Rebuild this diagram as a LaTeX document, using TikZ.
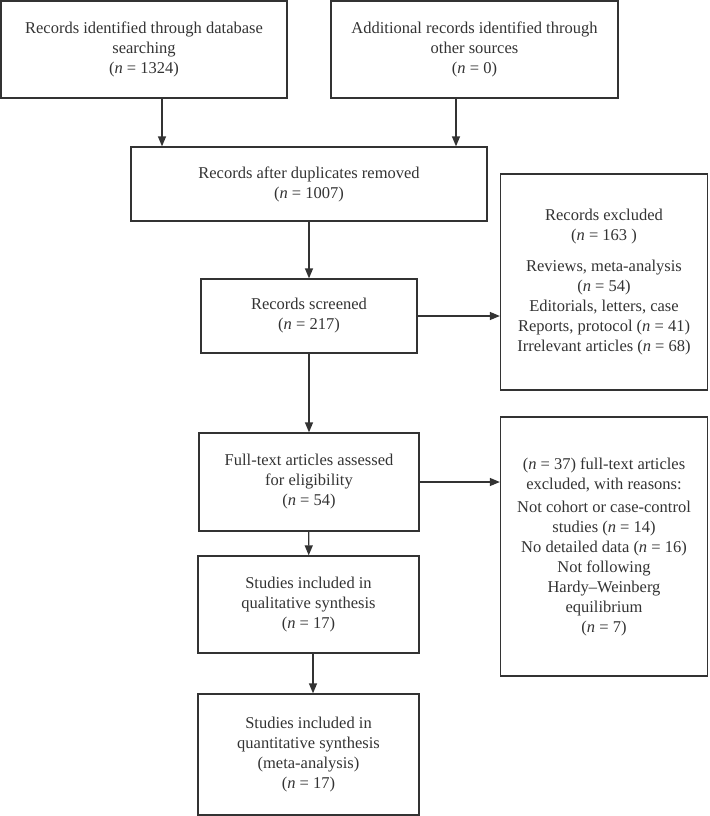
\documentclass[tikz,border=0pt]{standalone}
\usepackage{fontspec}
\setmainfont{Liberation Serif}
\usetikzlibrary{arrows.meta}
\newcommand{\nn}{\textit{n}}
\definecolor{ink}{HTML}{333333}
\begin{document}
\begin{tikzpicture}[x=1pt,y=-1pt,
  box/.style={draw=ink,line width=1.3pt,inner sep=0pt,align=center,text=ink,
    font=\fontsize{16.5}{20}\selectfont},
  arr/.style={draw=ink,line width=1.3pt,-{Triangle[length=10pt,width=8pt]}}]
\useasboundingbox (0,0) rectangle (709,816);
\node[box,minimum width=286pt,minimum height=97pt] (b1) at (144,49.5)
  {Records identified through database\\searching\\(\nn{} = 1324)};
\node[box,minimum width=287pt,minimum height=97pt] (b2) at (474.5,49.5)
  {Additional records identified through\\other sources\\(\nn{} = 0)};
\node[box,minimum width=356pt,minimum height=74pt] (b3) at (309,184)
  {Records after duplicates removed\\(\nn{} = 1007)};
\node[box,minimum width=216pt,minimum height=74pt] (b4) at (309,316)
  {Records screened\\(\nn{} = 217)};
\node[box,minimum width=207pt,minimum height=216pt] (b5) at (604,282)
  {Records excluded\\(\nn{} = 163 )\\[11pt]Reviews, meta-analysis\\(\nn{} = 54)\\Editorials, letters, case\\Reports, protocol (\nn{} = 41)\\Irrelevant articles (\nn{} = 68)};
\node[box,minimum width=220pt,minimum height=98pt] (b6) at (309,482)
  {Full-text articles assessed\\for eligibility\\(\nn{} = 54)};
\node[box,minimum width=207pt,minimum height=259pt] (b7) at (604,546.5)
  {(\nn{} = 37) full-text articles\\excluded, with reasons:\\[3pt]Not cohort or case-control\\studies (\nn{} = 14)\\No detailed data (\nn{} = 16)\\Not following\\Hardy--Weinberg\\equilibrium\\(\nn{} = 7)};
\node[box,minimum width=221pt,minimum height=97pt] (b8) at (308.5,604.5)
  {Studies included in\\qualitative synthesis\\(\nn{} = 17)};
\node[box,minimum width=221pt,minimum height=121pt] (b9) at (308.5,754.5)
  {Studies included in\\quantitative synthesis\\(meta-analysis)\\(\nn{} = 17)};
\coordinate (c1) at (162,0);
\coordinate (c2) at (456,0);
\coordinate (c3) at (313,0);
\draw[arr] (b1.south -| c1) -- (b3.north -| c1);
\draw[arr] (b2.south -| c2) -- (b3.north -| c2);
\draw[arr] (b3) -- (b4);
\draw[arr] (b4) -- (b6);
\draw[arr] (b6) -- (b8);
\draw[arr] (b8.south -| c3) -- (b9.north -| c3);
\draw[arr] (b4.east) -- (b5.west |- b4.east);
\draw[arr] (b6.east) -- (b7.west |- b6.east);
\end{tikzpicture}
\end{document}
